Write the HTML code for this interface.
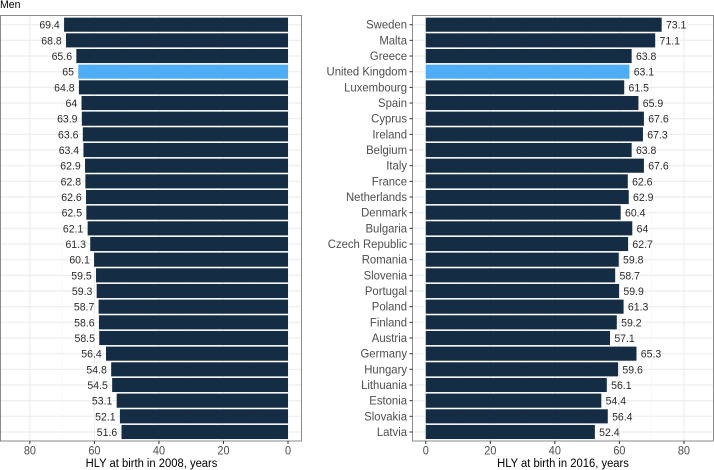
<!DOCTYPE html>
<html>
<head>
<meta charset="utf-8">
<style>
html,body{margin:0;padding:0;background:#fff;width:714px;height:470px;overflow:hidden}
svg{display:block;font-family:"Liberation Sans",Arial,sans-serif}
</style>
</head>
<body>
<svg id="chart" width="714" height="470" viewBox="0 0 714 470" xmlns="http://www.w3.org/2000/svg">
<text transform="translate(0 8) scale(0.93 1)" font-size="11.3" fill="#000">Men</text>
</svg>
<script>
const countries = ["Sweden","Malta","Greece","United Kingdom","Luxembourg","Spain","Cyprus","Ireland","Belgium","Italy","France","Netherlands","Denmark","Bulgaria","Czech Republic","Romania","Slovenia","Portugal","Poland","Finland","Austria","Germany","Hungary","Lithuania","Estonia","Slovakia","Latvia"];
const values2008 = [69.4,68.8,65.6,65,64.8,64,63.9,63.6,63.4,62.9,62.8,62.6,62.5,62.1,61.3,60.1,59.5,59.3,58.7,58.6,58.5,56.4,54.8,54.5,53.1,52.1,51.6];
const values2016 = [73.1,71.1,63.8,63.1,61.5,65.9,67.6,67.3,63.8,67.6,62.6,62.9,60.4,64,62.7,59.8,58.7,59.9,61.3,59.2,57.1,65.3,59.6,56.1,54.4,56.4,52.4];
const xTicks = [0,20,40,60,80];
const xMinorTicks = [10,30,50,70];
const highlighted = "United Kingdom";

const NS = "http://www.w3.org/2000/svg";
const svg = document.getElementById("chart");
const PX_PER_UNIT = 3.2265;
const TOP = 15.5, BOTTOM = 441, ROW0 = 24.7, ROW_STEP = 15.665, BAR_H = 14.1;
const yScale = i => ROW0 + i * ROW_STEP;
const xLeft = v => 288 - v * PX_PER_UNIT;
const xRight = v => 425.8 + v * PX_PER_UNIT;

function make(tag, attrs, text) {
  const el = document.createElementNS(NS, tag);
  for (const k in attrs) el.setAttribute(k, attrs[k]);
  if (text !== undefined) el.textContent = text;
  svg.appendChild(el);
  return el;
}

function makeText(x, y, size, squeeze, fill, anchor, text) {
  return make("text", {
    transform: "translate(" + x + " " + y + ") scale(" + squeeze + " 1)",
    "font-size": size, fill: fill, "text-anchor": anchor
  }, text);
}

function drawPanel(id, panelX0, panelX1, xScale, values, anchor, labelOffset, title, titleX) {
  xMinorTicks.forEach(t => {
    const el = make("line", {x1:xScale(t), x2:xScale(t), y1:TOP, y2:BOTTOM, stroke:"#f5f5f5", "stroke-width":0.7});
    
    
  });
  xTicks.forEach(t => {
    const el = make("line", {x1:xScale(t), x2:xScale(t), y1:TOP, y2:BOTTOM, stroke:"#eeeeee", "stroke-width":1.2});
    
    
  });
  countries.forEach((c, i) => {
    const el = make("line", {x1:panelX0, x2:panelX1, y1:yScale(i), y2:yScale(i), stroke:"#eeeeee", "stroke-width":1.2});
    
    
  });
  values.forEach((v, i) => {
    const a = xScale(0), b = xScale(v);
    const bar = make("rect", {
      x: Math.min(a, b), y: yScale(i) - BAR_H / 2,
      width: Math.abs(a - b), height: BAR_H,
      fill: countries[i] === highlighted ? "#4fadf5" : "#152c45"
    });
    
    
    const lab = makeText(b + labelOffset, yScale(i) + 4, 11.3, 0.93, "#2b2b2b", anchor, String(v));
    
    
  });
  const border = make("rect", {x:panelX0, y:TOP, width:panelX1 - panelX0, height:BOTTOM - TOP, fill:"none", stroke:"#8a8a8a", "stroke-width":1});
  
  
  xTicks.forEach(t => {
    const tick = make("line", {x1:xScale(t), x2:xScale(t), y1:BOTTOM, y2:BOTTOM + 3, stroke:"#333", "stroke-width":1});
    
    
    const lab = makeText(xScale(t), BOTTOM + 13.6, 11.6, 0.94, "#4d4d4d", "middle", String(t));
    
    
  });
  const axisTitle = makeText(titleX, 467, 11.7, 0.96, "#000", "middle", title);
  
  
}

drawPanel("left", 0.5, 301.5, xLeft, values2008, "end", -4.3, "HLY at birth in 2008, years", 151.5);
drawPanel("right", 412.5, 713.5, xRight, values2016, "start", 4.3, "HLY at birth in 2016, years", 563);

countries.forEach((c, i) => {
  const tick = make("line", {x1:409.5, x2:412.5, y1:yScale(i), y2:yScale(i), stroke:"#333", "stroke-width":1});
  
  
  const lab = makeText(407, yScale(i) + 4, 11.8, 0.96, "#4d4d4d", "end", c);
  
  
});
</script>
</body>
</html>
